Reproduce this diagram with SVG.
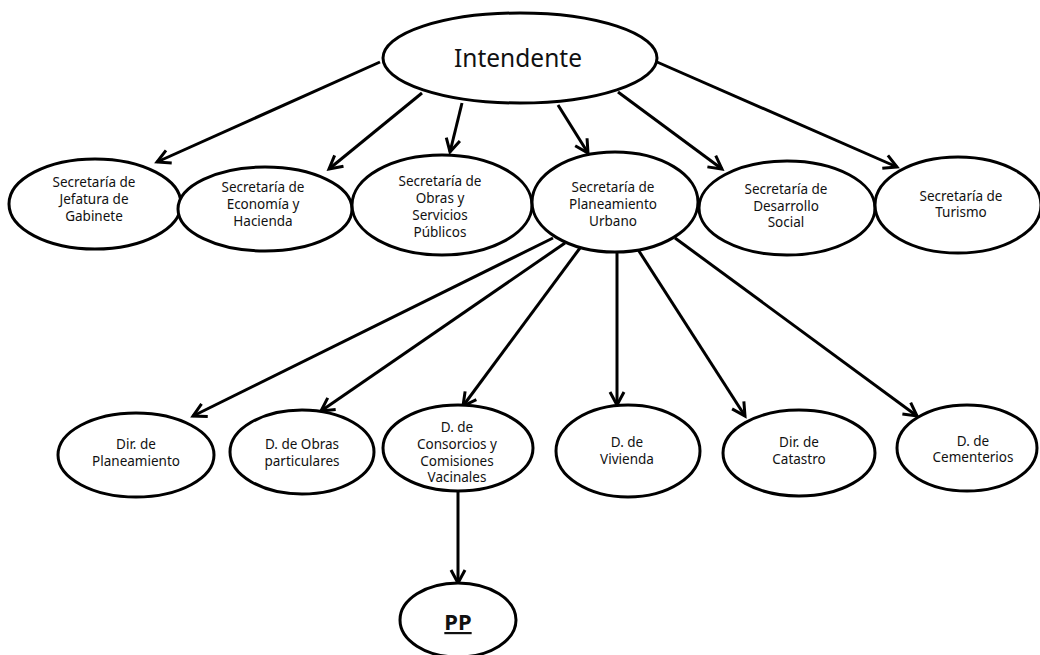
<svg xmlns="http://www.w3.org/2000/svg" width="1040" height="655" viewBox="0 0 1040 655">
<style>
.n ellipse{fill:#fff;stroke:#000;stroke-width:3}
.n text{font-family:"Noto Sans","Open Sans","DejaVu Sans",sans-serif;font-size:13.5px;fill:#111;text-anchor:middle}
.e line{stroke:#000;stroke-width:3;marker-end:url(#ah)}
</style>
<defs>
<marker id="ah" markerUnits="userSpaceOnUse" markerWidth="20" markerHeight="20" refX="14" refY="8" orient="auto" viewBox="0 0 20 16">
<path d="M1,1 L14,8 L1,15" fill="none" stroke="#000" stroke-width="3" stroke-linejoin="miter"/>
</marker>
</defs>
<rect width="1040" height="655" fill="#fff"/>
<g class="e" id="connectors">
<line x1="380" y1="62" x2="157" y2="162"/>
<line x1="422" y1="93" x2="329" y2="169"/>
<line x1="462" y1="103" x2="450" y2="152"/>
<line x1="558" y1="105" x2="588" y2="153"/>
<line x1="618" y1="92" x2="722" y2="169"/>
<line x1="657" y1="62" x2="897" y2="167"/>
<line x1="553" y1="238" x2="193" y2="416"/>
<line x1="565" y1="243" x2="321" y2="411"/>
<line x1="580" y1="248" x2="463" y2="406"/>
<line x1="617" y1="252" x2="617" y2="405"/>
<line x1="637" y1="248" x2="745" y2="416"/>
<line x1="675" y1="238" x2="917" y2="416"/>
<line x1="458" y1="492" x2="458" y2="583"/>
</g>
<g class="n" id="intendente">
<ellipse cx="520" cy="58" rx="137" ry="45"/>
<text x="518" y="67" style="font-size:24.5px">Intendente</text>
</g>
<g class="n" id="jefatura">
<ellipse cx="95" cy="204" rx="86" ry="45"/>
<text x="94" y="187">Secretaría de</text>
<text x="94" y="204">Jefatura de</text>
<text x="94" y="221">Gabinete</text>
</g>
<g class="n" id="economia">
<ellipse cx="265" cy="209" rx="87" ry="42"/>
<text x="263" y="192">Secretaría de</text>
<text x="263" y="209">Economía y</text>
<text x="263" y="226">Hacienda</text>
</g>
<g class="n" id="obras">
<ellipse cx="442" cy="205" rx="90" ry="50"/>
<text x="440" y="186">Secretaría de</text>
<text x="440" y="203">Obras y</text>
<text x="440" y="220">Servicios</text>
<text x="440" y="237">Públicos</text>
</g>
<g class="n" id="planeamiento">
<ellipse cx="615" cy="202" rx="83" ry="50"/>
<text x="613" y="192">Secretaría de</text>
<text x="613" y="209">Planeamiento</text>
<text x="613" y="226">Urbano</text>
</g>
<g class="n" id="desarrollo">
<ellipse cx="787" cy="208" rx="88" ry="47"/>
<text x="786" y="194">Secretaría de</text>
<text x="786" y="211">Desarrollo</text>
<text x="786" y="227">Social</text>
</g>
<g class="n" id="turismo">
<ellipse cx="958" cy="205" rx="83" ry="48"/>
<text x="961" y="201">Secretaría de</text>
<text x="961" y="217">Turismo</text>
</g>
<g class="n" id="dir-planeamiento">
<ellipse cx="136" cy="455" rx="78" ry="42"/>
<text x="136" y="449">Dir. de</text>
<text x="136" y="466">Planeamiento</text>
</g>
<g class="n" id="obras-particulares">
<ellipse cx="302" cy="452" rx="72" ry="42"/>
<text x="302" y="449">D. de Obras</text>
<text x="302" y="466">particulares</text>
</g>
<g class="n" id="consorcios">
<ellipse cx="458" cy="448" rx="75" ry="43"/>
<text x="457" y="432">D. de</text>
<text x="457" y="449">Consorcios y</text>
<text x="457" y="466">Comisiones</text>
<text x="457" y="482">Vacinales</text>
</g>
<g class="n" id="vivienda">
<ellipse cx="628" cy="451" rx="72" ry="46"/>
<text x="627" y="447">D. de</text>
<text x="627" y="464">Vivienda</text>
</g>
<g class="n" id="catastro">
<ellipse cx="799" cy="453" rx="76" ry="43"/>
<text x="799" y="447">Dir. de</text>
<text x="799" y="464">Catastro</text>
</g>
<g class="n" id="cementerios">
<ellipse cx="967" cy="448" rx="70" ry="43"/>
<text x="973" y="446">D. de</text>
<text x="973" y="462">Cementerios</text>
</g>
<g class="n" id="pp">
<ellipse cx="458" cy="620" rx="58" ry="37"/>
<text x="458" y="630" style="font-size:22px;font-weight:bold;text-decoration:underline">PP</text>
</g>
</svg>
